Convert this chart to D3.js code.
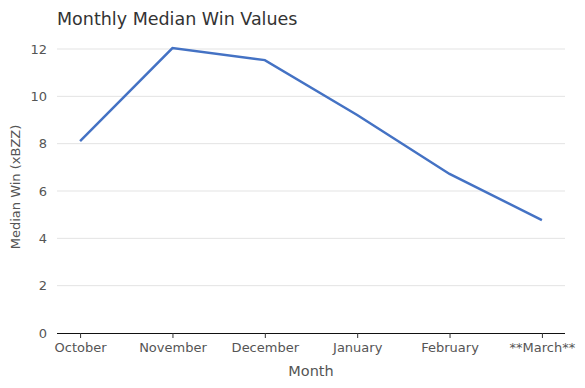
<!DOCTYPE html>
<html>
<head>
<meta charset="utf-8">
<script src="https://cdn.jsdelivr.net/npm/d3@7"></script>
<style>
  body { margin: 0; background: #fff; }
  text { font-family: "DejaVu Sans", sans-serif; }
</style>
</head>
<body>
<div id="vis"></div>
<script>
const MONTHS = ["October", "November", "December", "January", "February", "**March**"];
const MEDIAN_WIN = [8.11, 12.04, 11.53, 9.21, 6.72, 4.77];
const Y_TICKS = [0, 2, 4, 6, 8, 10, 12];

const WIDTH = 585;
const HEIGHT = 388;
const margin = { top: 35, right: 20, bottom: 55, left: 57 };

const svg = d3.select("#vis").append("svg")
    .attr("width", WIDTH)
    .attr("height", HEIGHT);

const x = d3.scalePoint()
    .domain(MONTHS)
    .range([margin.left, WIDTH - margin.right])
    .padding(0.25);

// y(0)=333, y(12)=49
const y = d3.scaleLinear()
    .domain([0, 12])
    .range([HEIGHT - margin.bottom, 49]);

// grid
svg.append("g")
    .selectAll("line")
    .data(Y_TICKS.filter(d => d > 0))
    .join("line")
    .attr("x1", margin.left)
    .attr("x2", WIDTH - margin.right)
    .attr("y1", d => y(d))
    .attr("y2", d => y(d))
    .attr("stroke", "#e3e3e3")
    .attr("stroke-width", 1);

// y axis (labels only)
const yAxis = svg.append("g")
    .attr("transform", `translate(${margin.left},0)`)
    .call(d3.axisLeft(y).tickValues(Y_TICKS).tickSize(0).tickPadding(10));
yAxis.select(".domain").remove();
yAxis.selectAll("text")
    .attr("fill", "#555")
    .style("font-size", "13px");

// x axis
const xAxis = svg.append("g")
    .attr("transform", `translate(0,${y(0)})`)
    .call(d3.axisBottom(x).tickSize(5).tickPadding(5));
xAxis.select(".domain")
    .attr("d", `M${margin.left},0.5H${WIDTH - margin.right}`)
    .attr("stroke", "#111");
xAxis.selectAll(".tick line").attr("stroke", "#333");
xAxis.selectAll("text")
    .attr("fill", "#555")
    .style("font-size", "13px");

// line
const line = d3.line()
    .x((d, i) => x(MONTHS[i]))
    .y(d => y(d));

svg.append("path")
    .datum(MEDIAN_WIN)
    .attr("fill", "none")
    .attr("stroke", "#4472c4")
    .attr("stroke-width", 2.5)
    .attr("d", line);

// title
svg.append("text")
    .attr("x", margin.left)
    .attr("y", 25)
    .attr("fill", "#333")
    .style("font-size", "17.5px")
    .text("Monthly Median Win Values");

// axis labels
svg.append("text")
    .attr("x", (margin.left + WIDTH - margin.right) / 2)
    .attr("y", 376)
    .attr("text-anchor", "middle")
    .attr("fill", "#555")
    .style("font-size", "14.5px")
    .text("Month");

svg.append("text")
    .attr("transform", `translate(20,${(y(0) + y(12)) / 2 - 4}) rotate(-90)`)
    .attr("text-anchor", "middle")
    .attr("fill", "#555")
    .style("font-size", "13px")
    .text("Median Win (xBZZ)");
</script>
</body>
</html>
